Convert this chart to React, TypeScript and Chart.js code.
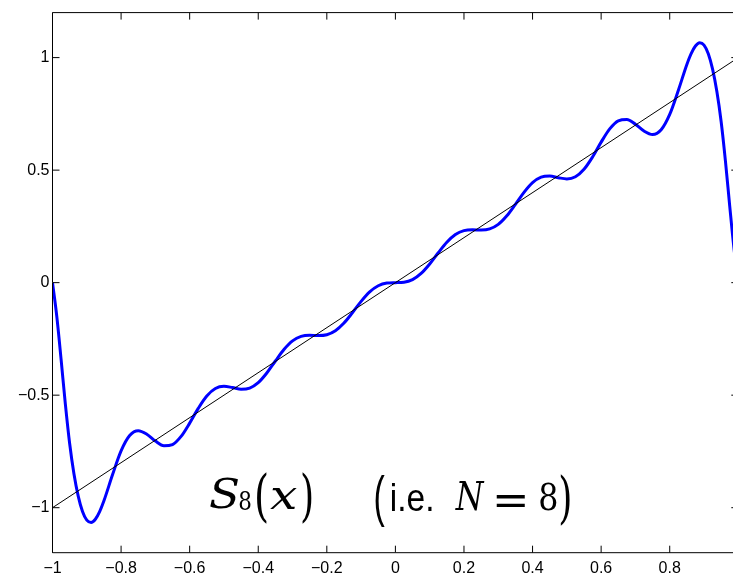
import React, { useEffect, useRef } from "react";
import { Chart, registerables } from "chart.js";

Chart.register(...registerables);

// ---- data ----
const X_VALUES = [
  -1, -0.9875, -0.975, -0.9625, -0.95, -0.9375, -0.925, -0.9125, -0.9, -0.8875, -0.875, -0.8625, -0.85,
  -0.825, -0.8, -0.775, -0.75, -0.725, -0.7, -0.675, -0.65, -0.625, -0.6, -0.575, -0.55, -0.525, -0.5,
  -0.475, -0.45, -0.425, -0.4, -0.375, -0.35, -0.325, -0.3, -0.275, -0.25, -0.225, -0.2, -0.175, -0.15,
  -0.125, -0.1, -0.075, -0.05, -0.025,
  0,
  0.025, 0.05, 0.075, 0.1, 0.125, 0.15, 0.175, 0.2, 0.225, 0.25, 0.275, 0.3, 0.325, 0.35, 0.375, 0.4,
  0.425, 0.45, 0.475, 0.5, 0.525, 0.55, 0.575, 0.6, 0.625, 0.65, 0.675, 0.7, 0.725, 0.75, 0.775, 0.8, 0.825,
  0.85, 0.8625, 0.875, 0.8875, 0.9, 0.9125, 0.925, 0.9375, 0.95, 0.9625, 0.975, 0.9875, 1,
];

const S8_VALUES = [
  0, -0.15, -0.34, -0.54, -0.715, -0.8491, -0.9485, -1.0171, -1.0555, -1.0657, -1.0514, -1.0174, -0.9693,
  -0.8539, -0.7478, -0.6795, -0.6581, -0.6736, -0.7039, -0.7249, -0.7194, -0.6833, -0.6243, -0.5586, -0.5036,
  -0.4704, -0.4608, -0.4663, -0.4734, -0.4686, -0.4443, -0.4013, -0.3482, -0.2971, -0.2589, -0.2387, -0.2337,
  -0.235, -0.2313, -0.2138, -0.1795, -0.1329, -0.0832, -0.041, -0.0136, -0.0018,
  0,
  0.0018, 0.0136, 0.041, 0.0832, 0.1329, 0.1795, 0.2138, 0.2313, 0.235, 0.2337, 0.2387, 0.2589, 0.2971,
  0.3482, 0.4013, 0.4443, 0.4686, 0.4734, 0.4663, 0.4608, 0.4704, 0.5036, 0.5586, 0.6243, 0.6833, 0.7194,
  0.7249, 0.7039, 0.6736, 0.6581, 0.6795, 0.7478, 0.8539, 0.9693, 1.0174, 1.0514, 1.0657, 1.0555, 1.0171,
  0.9485, 0.8491, 0.715, 0.54, 0.34, 0.15, 0,
];

const LINE_X = [-1, 1];
const LINE_Y = [-1, 1];

const X_TICKS = [-1, -0.8, -0.6, -0.4, -0.2, 0, 0.2, 0.4, 0.6, 0.8, 1];
const Y_TICKS = [-1, -0.5, 0, 0.5, 1];
const X_RANGE = [-1, 1];
const Y_RANGE = [-1.2, 1.2];

// annotation anchor in data units
const ANNOT_X = -0.5465;
const ANNOT_Y = -1.0;

const fmt = (v: number) => {
  const r = Math.round(v * 10) / 10;
  return r < 0 ? "\u2212" + String(-r) : String(r);
};

const SERIF = '"DejaVu Serif", "Liberation Serif", serif';
const SANS = '"Liberation Sans", Arial, sans-serif';

// ink boxes (left, right, top, bottom) relative to the annotation anchor
type Piece = { t: string; font: string; box: [number, number, number, number] };

const PIECES: Piece[] = [
  { t: "S", font: `italic 42px ${SERIF}`, box: [2, 30, -30.7, 1.3] },
  { t: "8", font: `25px ${SERIF}`, box: [31, 43, -16.3, 2] },
  { t: "(", font: `40px ${SERIF}`, box: [49, 58.7, -34, 17] },
  { t: "x", font: `italic 40px ${SERIF}`, box: [62, 88.7, -19, 1.5] },
  { t: ")", font: `40px ${SERIF}`, box: [93.7, 103.7, -34, 17] },
  { t: "(", font: `44px ${SANS}`, box: [167, 177, -33, 18.7] },
  { t: "i.e.", font: `36px ${SANS}`, box: [183.7, 223.7, -25, 3.5] },
  { t: "N", font: `italic 38px ${SERIF}`, box: [247, 277, -24.7, 3.7] },
  { t: "=", font: `38px ${SERIF}`, box: [288.7, 317, -12, -0.7] },
  { t: "8", font: `38px ${SERIF}`, box: [332, 348.7, -24.7, 3.7] },
  { t: ")", font: `40px ${SERIF}`, box: [352, 362, -33, 18.7] },
];

const framePlugin = {
  id: "frameTicks",
  afterDatasetsDraw(chart: any) {
    const { ctx, chartArea, scales } = chart;
    const { left, right, top, bottom } = chartArea;
    const xs = scales.x;
    const ys = scales.y;
    const L = 7;
    ctx.save();
    ctx.strokeStyle = "#000";
    ctx.lineWidth = 1;
    ctx.beginPath();
    ctx.rect(left, top, right - left, bottom - top);
    X_TICKS.forEach((v) => {
      const p = xs.getPixelForValue(v);
      ctx.moveTo(p, bottom);
      ctx.lineTo(p, bottom - L);
      ctx.moveTo(p, top);
      ctx.lineTo(p, top + L);
    });
    Y_TICKS.forEach((v) => {
      const p = ys.getPixelForValue(v);
      ctx.moveTo(left, p);
      ctx.lineTo(left + L, p);
      ctx.moveTo(right, p);
      ctx.lineTo(right - L, p);
    });
    ctx.stroke();
    ctx.restore();
  },
  afterDraw(chart: any) {
    const { ctx, scales } = chart;
    const ax = scales.x.getPixelForValue(ANNOT_X);
    const ay = scales.y.getPixelForValue(ANNOT_Y);
    ctx.save();
    ctx.fillStyle = "#000";
    ctx.textAlign = "left";
    ctx.textBaseline = "alphabetic";
    PIECES.forEach((p) => {
      const [l, r, t, b] = p.box;
      ctx.font = p.font;
      const m = ctx.measureText(p.t);
      const inkW = m.actualBoundingBoxLeft + m.actualBoundingBoxRight;
      const inkH = m.actualBoundingBoxAscent + m.actualBoundingBoxDescent;
      const sx = inkW > 0 ? (r - l) / inkW : 1;
      const sy = inkH > 0 ? (b - t) / inkH : 1;
      ctx.save();
      ctx.translate(ax + l + m.actualBoundingBoxLeft * sx, ay + t + m.actualBoundingBoxAscent * sy);
      ctx.scale(sx, sy);
      ctx.fillText(p.t, 0, 0);
      ctx.restore();
    });
    ctx.restore();
  },
};

export default function App() {
  const ref = useRef<HTMLCanvasElement | null>(null);

  useEffect(() => {
    if (!ref.current) return;
    const tickFont = { family: SANS, size: 16 };
    const chart = new Chart(ref.current, {
      type: "line",
      data: {
        datasets: [
          {
            label: "x",
            data: LINE_X.map((x, i) => ({ x, y: LINE_Y[i] })),
            borderColor: "#000000",
            borderWidth: 1,
            pointRadius: 0,
            tension: 0,
            order: 0,
          },
          {
            label: "S8(x)",
            data: X_VALUES.map((x, i) => ({ x, y: S8_VALUES[i] })),
            borderColor: "#0000ff",
            borderWidth: 3,
            pointRadius: 0,
            cubicInterpolationMode: "monotone",
            order: 1,
          },
        ],
      } as any,
      options: {
        animation: false,
        responsive: false,
        maintainAspectRatio: false,
        layout: { padding: { top: 12.3, right: 21.7, left: 0, bottom: 0 } },
        plugins: { legend: { display: false }, tooltip: { enabled: false } },
        elements: { point: { radius: 0 } },
        scales: {
          x: {
            type: "linear",
            min: X_RANGE[0],
            max: X_RANGE[1],
            grid: { display: false, drawTicks: false },
            border: { display: false },
            afterBuildTicks: (s: any) => {
              s.ticks = X_TICKS.map((v) => ({ value: v }));
            },
            afterFit: (s: any) => {
              s.height = 23.3;
            },
            ticks: {
              padding: 6,
              color: "#000",
              font: tickFont,
              maxRotation: 0,
              autoSkip: false,
              callback: (v: any) => fmt(Number(v)),
            },
          },
          y: {
            type: "linear",
            min: Y_RANGE[0],
            max: Y_RANGE[1],
            grid: { display: false, drawTicks: false },
            border: { display: false },
            afterBuildTicks: (s: any) => {
              s.ticks = Y_TICKS.map((v) => ({ value: v }));
            },
            afterFit: (s: any) => {
              s.width = 52.5;
            },
            ticks: {
              padding: 3,
              color: "#000",
              font: tickFont,
              autoSkip: false,
              callback: (v: any) => fmt(Number(v)),
            },
          },
        },
      } as any,
      plugins: [framePlugin],
    });
    return () => chart.destroy();
  }, []);

  return (
    <div
      style={{
        position: "fixed",
        left: 0,
        top: 0,
        width: 733,
        height: 576,
        overflow: "hidden",
        background: "#ffffff",
      }}
    >
      <canvas ref={ref} width={760} height={576} style={{ display: "block", width: 760, height: 576 }} />
    </div>
  );
}
